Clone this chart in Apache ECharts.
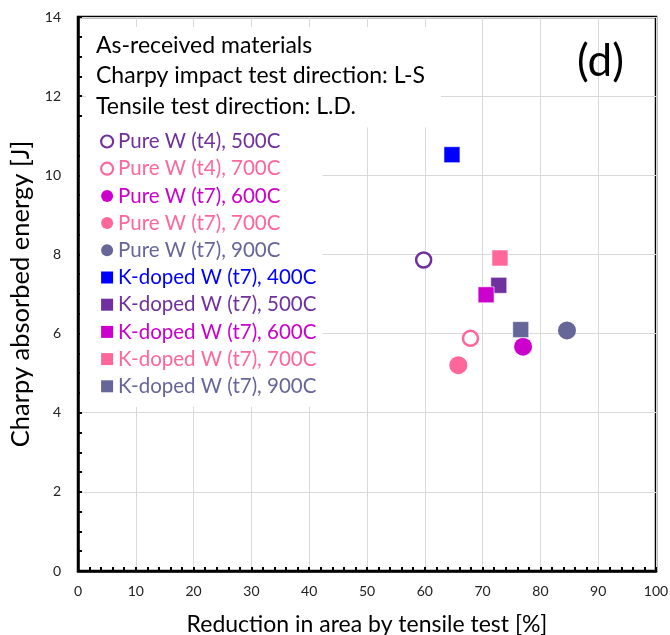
<!DOCTYPE html>
<html>
<head>
<meta charset="utf-8">
<script src="https://cdn.jsdelivr.net/npm/echarts@6/dist/echarts.min.js"></script>
<style>
  html, body { margin: 0; padding: 0; background: #fff; }
  #chart { width: 670px; height: 635px; }
</style>
</head>
<body>
<div id="chart"></div>
<script>
// Reduction in area [%] and Charpy absorbed energy [J] per material / test temperature
const seriesNames = [
  'Pure W (t4), 500C', 'Pure W (t4), 700C',
  'Pure W (t7), 600C', 'Pure W (t7), 700C', 'Pure W (t7), 900C',
  'K-doped W (t7), 400C', 'K-doped W (t7), 500C', 'K-doped W (t7), 600C',
  'K-doped W (t7), 700C', 'K-doped W (t7), 900C'
];
const reductionInArea = [59.8, 67.9, 77.0, 65.8, 84.6, 64.7, 72.8, 70.6, 73.0, 76.6];
const charpyEnergy    = [7.86, 5.88, 5.67, 5.20, 6.08, 10.52, 7.22, 6.98, 7.91, 6.10];
const seriesColors = ['#7030A0', '#FF6699', '#CC00CC', '#FF6699', '#666699',
                      '#0000FF', '#7030A0', '#CC00CC', '#FF6699', '#666699'];
const seriesKinds  = ['open', 'open', 'dot', 'dot', 'dot',
                      'square', 'square', 'square', 'square', 'square'];
const noteLines = ['As-received materials', 'Charpy impact test direction: L-S', 'Tensile test direction: L.D.'];
const xTicks = [0, 10, 20, 30, 40, 50, 60, 70, 80, 90, 100];
const yTicks = [0, 2, 4, 6, 8, 10, 12, 14];

const FONT = 'Lato, "Open Sans", sans-serif';
const chart = echarts.init(document.getElementById('chart'), null, { renderer: 'canvas' });

const series = seriesNames.map((name, i) => {
  const kind = seriesKinds[i];
  const c = seriesColors[i];
  return {
    name,
    type: 'scatter',
    data: [[reductionInArea[i], charpyEnergy[i]]],
    symbol: kind === 'square' ? 'rect' : 'circle',
    symbolSize: kind === 'square' ? 16 : (kind === 'open' ? 15 : 18),
    itemStyle: kind === 'open'
      ? { color: '#fff', borderColor: c, borderWidth: 2.5, opacity: 1 }
      : { color: c, borderColor: kind === 'square' ? '#fff' : c, borderWidth: kind === 'square' ? 0.6 : 0, opacity: 1 },
    z: 3
  };
});

chart.setOption({
  animation: false,
  backgroundColor: '#fff',
  grid: {
    left: 78, right: 14, top: 17, bottom: 64,
    containLabel: false, outerBoundsMode: 'none',
    show: true, borderColor: '#000', borderWidth: 2.5, backgroundColor: 'transparent'
  },
  title: {
    text: noteLines.join('\n'),
    left: 86, top: 27,
    backgroundColor: '#fff',
    padding: [3, 16, 6, 10],
    textStyle: { fontFamily: FONT, fontSize: 23, fontWeight: 'normal', color: '#000', lineHeight: 30.5 }
  },
  legend: {
    orient: 'vertical',
    left: 80, top: 127,
    backgroundColor: '#fff',
    padding: [4, 6, 10, 20],
    itemGap: 6.2,
    itemWidth: 12, itemHeight: 12,
    textStyle: { fontFamily: FONT, fontSize: 20.5, lineHeight: 18 },
    data: seriesNames.map((n, i) => ({
      name: n,
      itemStyle: seriesKinds[i] === 'open'
        ? { color: '#fff', borderColor: seriesColors[i], borderWidth: 2.2 }
        : { color: seriesColors[i], borderWidth: 0 },
      textStyle: { color: seriesColors[i] }
    }))
  },
  graphic: [{
    type: 'text', left: 577, top: 40, z: 10,
    style: { text: '(d)', font: '44px ' + FONT, fill: '#000' }
  }],
  xAxis: {
    type: 'value', min: xTicks[0], max: xTicks[xTicks.length - 1], interval: 10,
    name: 'Reduction in area by tensile test [%]',
    nameLocation: 'middle', nameGap: 42,
    nameTextStyle: { fontFamily: FONT, fontSize: 23, color: '#000' },
    axisLine: { show: true, lineStyle: { color: '#000', width: 2.5 } },
    axisTick: { show: true, inside: true, length: 4, lineStyle: { color: '#000', width: 2 } },
    minorTick: { show: true, splitNumber: 5, length: 4, lineStyle: { color: '#000', width: 2 } },
    axisLabel: { fontFamily: FONT, fontSize: 14, color: '#222', margin: 13 },
    splitLine: { show: true, lineStyle: { color: '#d9d9d9', width: 1 } }
  },
  yAxis: {
    type: 'value', min: yTicks[0], max: yTicks[yTicks.length - 1], interval: 2,
    name: 'Charpy absorbed energy [J]',
    nameLocation: 'middle', nameGap: 44, nameRotate: 90,
    nameTextStyle: { fontFamily: FONT, fontSize: 25.5, color: '#000', padding: [0, 0, 0, 0] },
    axisLine: { show: true, lineStyle: { color: '#000', width: 2.5 } },
    axisTick: { show: true, inside: true, length: 4, lineStyle: { color: '#000', width: 2 } },
    minorTick: { show: true, splitNumber: 4, length: 4, lineStyle: { color: '#000', width: 2 } },
    axisLabel: { fontFamily: FONT, fontSize: 14, color: '#222', margin: 17 },
    splitLine: { show: true, lineStyle: { color: '#d9d9d9', width: 1 } }
  },
  series
});
</script>
</body>
</html>
